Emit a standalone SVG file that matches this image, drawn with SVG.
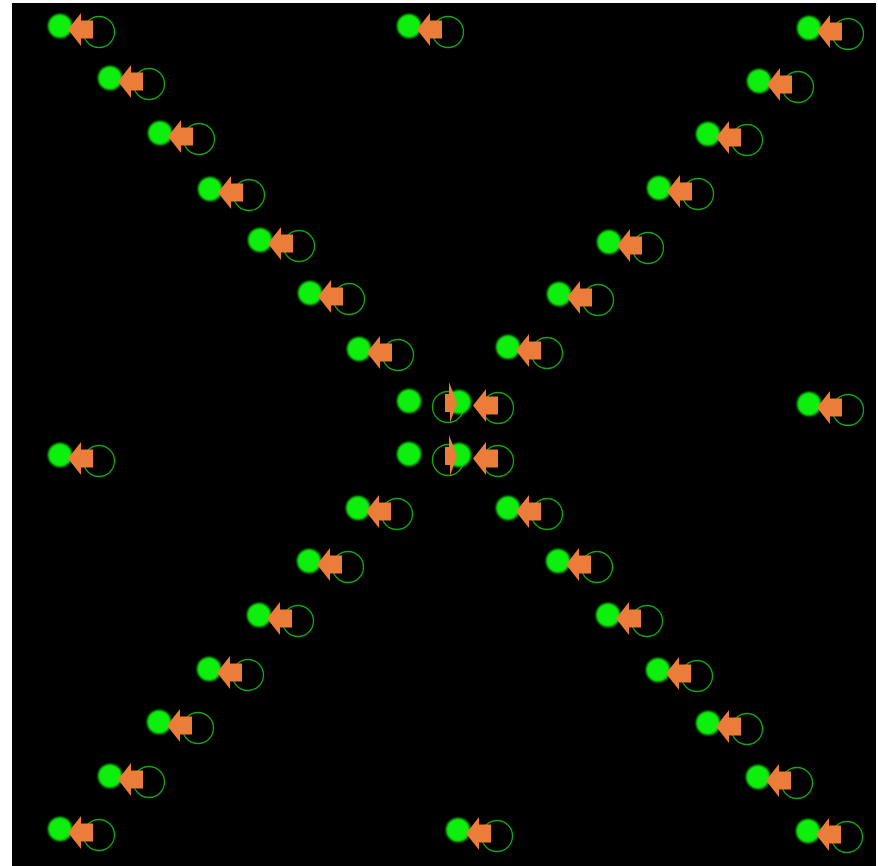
<svg xmlns="http://www.w3.org/2000/svg" xmlns:xlink="http://www.w3.org/1999/xlink" width="878" height="866" viewBox="0 0 878 866">
<style>
.nd{fill:#0af00a;filter:url(#soft)}
.lp{fill:none;stroke:#12a812;stroke-width:1.3}
.ar{fill:#ec7c3a}
</style>
<defs>
<filter id="soft" x="-30%" y="-30%" width="160%" height="160%"><feGaussianBlur stdDeviation="1.1"/></filter>
<path id="arw" d="M8,3.5 L21,-13 L21,-5.5 L33,-5.5 L33,12.5 L21,12.5 L21,20 Z"/>
<circle id="node" r="12"/>
<circle id="loop" cx="39" cy="6" r="15.5"/>
</defs>
<rect x="12" y="3" width="864" height="863" fill="#000"/>
<g id="connectors">
<use href="#loop" class="lp" x="60" y="26"/>
<use href="#loop" class="lp" x="409" y="26"/>
<use href="#loop" class="lp" x="809" y="28"/>
<use href="#loop" class="lp" x="110" y="78"/>
<use href="#loop" class="lp" x="759" y="81"/>
<use href="#loop" class="lp" x="160" y="133"/>
<use href="#loop" class="lp" x="708" y="134"/>
<use href="#loop" class="lp" x="210" y="189"/>
<use href="#loop" class="lp" x="659" y="188"/>
<use href="#loop" class="lp" x="260" y="240"/>
<use href="#loop" class="lp" x="609" y="242"/>
<use href="#loop" class="lp" x="310" y="293"/>
<use href="#loop" class="lp" x="559" y="294"/>
<use href="#loop" class="lp" x="359" y="349"/>
<use href="#loop" class="lp" x="508" y="347"/>
<use href="#loop" class="lp" x="409" y="401"/>
<use href="#loop" class="lp" x="459" y="402"/>
<use href="#loop" class="lp" x="809" y="404"/>
<use href="#loop" class="lp" x="60" y="455"/>
<use href="#loop" class="lp" x="409" y="454"/>
<use href="#loop" class="lp" x="459" y="455"/>
<use href="#loop" class="lp" x="358" y="508"/>
<use href="#loop" class="lp" x="508" y="508"/>
<use href="#loop" class="lp" x="309" y="561"/>
<use href="#loop" class="lp" x="558" y="561"/>
<use href="#loop" class="lp" x="259" y="615"/>
<use href="#loop" class="lp" x="608" y="615"/>
<use href="#loop" class="lp" x="209" y="669"/>
<use href="#loop" class="lp" x="658" y="670"/>
<use href="#loop" class="lp" x="159" y="722"/>
<use href="#loop" class="lp" x="708" y="723"/>
<use href="#loop" class="lp" x="110" y="776"/>
<use href="#loop" class="lp" x="758" y="777"/>
<use href="#loop" class="lp" x="60" y="829"/>
<use href="#loop" class="lp" x="458" y="830"/>
<use href="#loop" class="lp" x="808" y="831"/>
</g>
<g id="nodes">
<g id="n1"><use href="#node" class="nd" x="60" y="26"/></g>
<g id="n2"><use href="#node" class="nd" x="409" y="26"/></g>
<g id="n3"><use href="#node" class="nd" x="809" y="28"/></g>
<g id="n4"><use href="#node" class="nd" x="110" y="78"/></g>
<g id="n5"><use href="#node" class="nd" x="759" y="81"/></g>
<g id="n6"><use href="#node" class="nd" x="160" y="133"/></g>
<g id="n7"><use href="#node" class="nd" x="708" y="134"/></g>
<g id="n8"><use href="#node" class="nd" x="210" y="189"/></g>
<g id="n9"><use href="#node" class="nd" x="659" y="188"/></g>
<g id="n10"><use href="#node" class="nd" x="260" y="240"/></g>
<g id="n11"><use href="#node" class="nd" x="609" y="242"/></g>
<g id="n12"><use href="#node" class="nd" x="310" y="293"/></g>
<g id="n13"><use href="#node" class="nd" x="559" y="294"/></g>
<g id="n14"><use href="#node" class="nd" x="359" y="349"/></g>
<g id="n15"><use href="#node" class="nd" x="508" y="347"/></g>
<g id="n16"><use href="#node" class="nd" x="409" y="401"/></g>
<g id="n17"><use href="#node" class="nd" x="459" y="402"/></g>
<g id="n18"><use href="#node" class="nd" x="809" y="404"/></g>
<g id="n19"><use href="#node" class="nd" x="60" y="455"/></g>
<g id="n20"><use href="#node" class="nd" x="409" y="454"/></g>
<g id="n21"><use href="#node" class="nd" x="459" y="455"/></g>
<g id="n22"><use href="#node" class="nd" x="358" y="508"/></g>
<g id="n23"><use href="#node" class="nd" x="508" y="508"/></g>
<g id="n24"><use href="#node" class="nd" x="309" y="561"/></g>
<g id="n25"><use href="#node" class="nd" x="558" y="561"/></g>
<g id="n26"><use href="#node" class="nd" x="259" y="615"/></g>
<g id="n27"><use href="#node" class="nd" x="608" y="615"/></g>
<g id="n28"><use href="#node" class="nd" x="209" y="669"/></g>
<g id="n29"><use href="#node" class="nd" x="658" y="670"/></g>
<g id="n30"><use href="#node" class="nd" x="159" y="722"/></g>
<g id="n31"><use href="#node" class="nd" x="708" y="723"/></g>
<g id="n32"><use href="#node" class="nd" x="110" y="776"/></g>
<g id="n33"><use href="#node" class="nd" x="758" y="777"/></g>
<g id="n34"><use href="#node" class="nd" x="60" y="829"/></g>
<g id="n35"><use href="#node" class="nd" x="458" y="830"/></g>
<g id="n36"><use href="#node" class="nd" x="808" y="831"/></g>
</g>
<g id="arrowheads">
<use href="#arw" class="ar" x="60" y="26"/>
<use href="#arw" class="ar" x="409" y="26"/>
<use href="#arw" class="ar" x="809" y="28"/>
<use href="#arw" class="ar" x="110" y="78"/>
<use href="#arw" class="ar" x="759" y="81"/>
<use href="#arw" class="ar" x="160" y="133"/>
<use href="#arw" class="ar" x="708" y="134"/>
<use href="#arw" class="ar" x="210" y="189"/>
<use href="#arw" class="ar" x="659" y="188"/>
<use href="#arw" class="ar" x="260" y="240"/>
<use href="#arw" class="ar" x="609" y="242"/>
<use href="#arw" class="ar" x="310" y="293"/>
<use href="#arw" class="ar" x="559" y="294"/>
<use href="#arw" class="ar" x="359" y="349"/>
<use href="#arw" class="ar" x="508" y="347"/>
<polygon class="ar" points="449,382 457,403 450,423 450,412 445,412 445,394 449,394"/>
<use href="#arw" class="ar" x="465" y="402"/>
<use href="#arw" class="ar" x="809" y="404"/>
<use href="#arw" class="ar" x="60" y="455"/>
<polygon class="ar" points="449,435 457,456 450,476 450,465 445,465 445,447 449,447"/>
<use href="#arw" class="ar" x="465" y="455"/>
<use href="#arw" class="ar" x="358" y="508"/>
<use href="#arw" class="ar" x="508" y="508"/>
<use href="#arw" class="ar" x="309" y="561"/>
<use href="#arw" class="ar" x="558" y="561"/>
<use href="#arw" class="ar" x="259" y="615"/>
<use href="#arw" class="ar" x="608" y="615"/>
<use href="#arw" class="ar" x="209" y="669"/>
<use href="#arw" class="ar" x="658" y="670"/>
<use href="#arw" class="ar" x="159" y="722"/>
<use href="#arw" class="ar" x="708" y="723"/>
<use href="#arw" class="ar" x="110" y="776"/>
<use href="#arw" class="ar" x="758" y="777"/>
<use href="#arw" class="ar" x="60" y="829"/>
<use href="#arw" class="ar" x="458" y="830"/>
<use href="#arw" class="ar" x="808" y="831"/>
</g>
</svg>
